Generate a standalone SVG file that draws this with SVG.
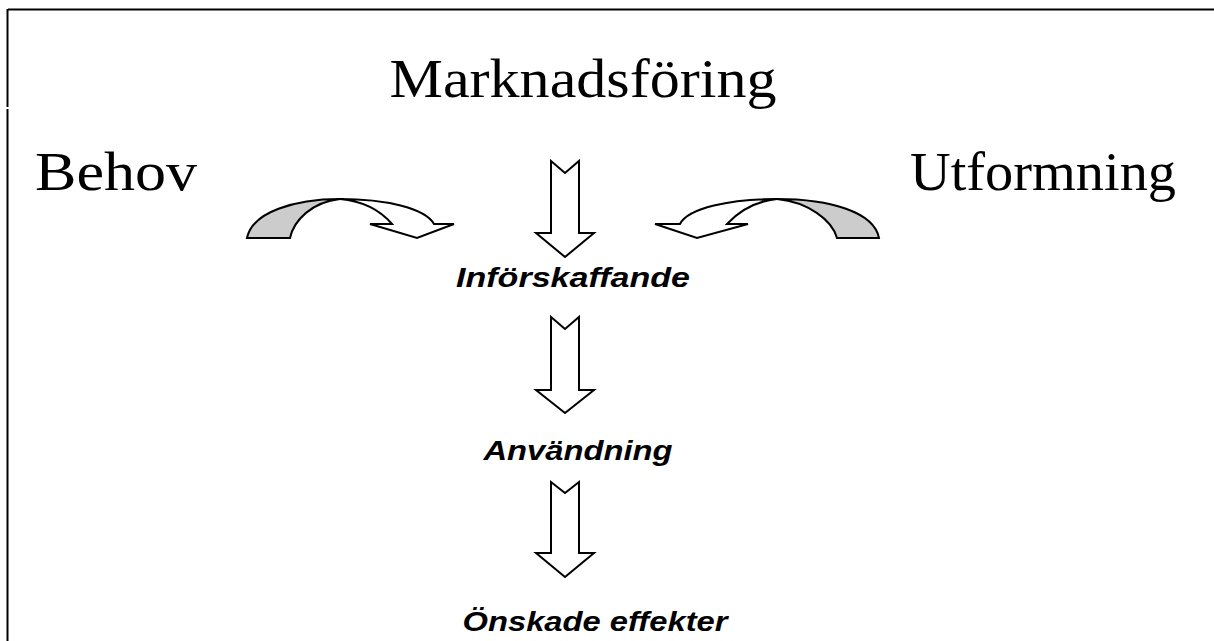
<svg xmlns="http://www.w3.org/2000/svg" width="1214" height="641" viewBox="0 0 1214 641">
<style>
.frame{stroke:#000;stroke-width:2;fill:none}
.title{font-family:"Liberation Serif",serif;font-size:54px;fill:#000}
.step{font-family:"Liberation Sans",Arial,sans-serif;font-size:27px;font-weight:bold;font-style:italic;fill:#000}
.arr{fill:#fff;stroke:#000;stroke-width:2;stroke-linejoin:miter}
.shade{fill:#cccccc;stroke:#000;stroke-width:2}
</style>
<rect width="1214" height="641" fill="#fff"/>
<g id="frame">
<line class="frame" x1="8" y1="9.5" x2="1214" y2="9.5"/>
<line class="frame" x1="7.5" y1="9" x2="7.5" y2="107"/>
<line class="frame" x1="7.5" y1="109" x2="7.5" y2="641"/>
</g>
<g id="marknadsforing"><text class="title" x="583" y="97" text-anchor="middle" textLength="387" lengthAdjust="spacingAndGlyphs">Marknadsföring</text></g>
<g id="behov"><text class="title" x="35" y="190" textLength="162" lengthAdjust="spacingAndGlyphs">Behov</text></g>
<g id="utformning"><text class="title" x="910" y="190" textLength="266" lengthAdjust="spacingAndGlyphs">Utformning</text></g>
<g id="inforskaffande"><text class="step" x="573" y="287" text-anchor="middle" textLength="234" lengthAdjust="spacingAndGlyphs">Införskaffande</text></g>
<g id="anvandning"><text class="step" x="578" y="460" text-anchor="middle" textLength="189" lengthAdjust="spacingAndGlyphs">Användning</text></g>
<g id="onskade"><text class="step" x="595" y="631" text-anchor="middle" textLength="265" lengthAdjust="spacingAndGlyphs">Önskade effekter</text></g>
<g id="connectors">
<path class="shade" d="M247,238 C252,212 295,199 340,199 C312,202 294,220 290,238 Z"/>
<path class="arr" d="M340,199 C385,199 425,208 434,224 L454,224 L417,238 L370,224 L392,224 C380,210 362,201 340,199 Z"/>
<path class="shade" d="M879,238 C874,212 830,199 777,199 C808,202 832,220 837,238 Z"/>
<path class="arr" d="M777,199 C730,199 688,208 680,224 L655,224 L697,238 L748,224 L727,224 C740,210 757,201 777,199 Z"/>
<path class="arr" d="M551,161 L565,173 L579,161 L579,233 L594,233 L565,257 L536,233 L551,233 Z"/>
<path class="arr" d="M551,317 L565,329 L579,317 L579,390 L594,390 L565,413 L536,390 L551,390 Z"/>
<path class="arr" d="M551,482 L565,493 L579,482 L579,553 L594,553 L565,577 L536,553 L551,553 Z"/>
</g>
</svg>
